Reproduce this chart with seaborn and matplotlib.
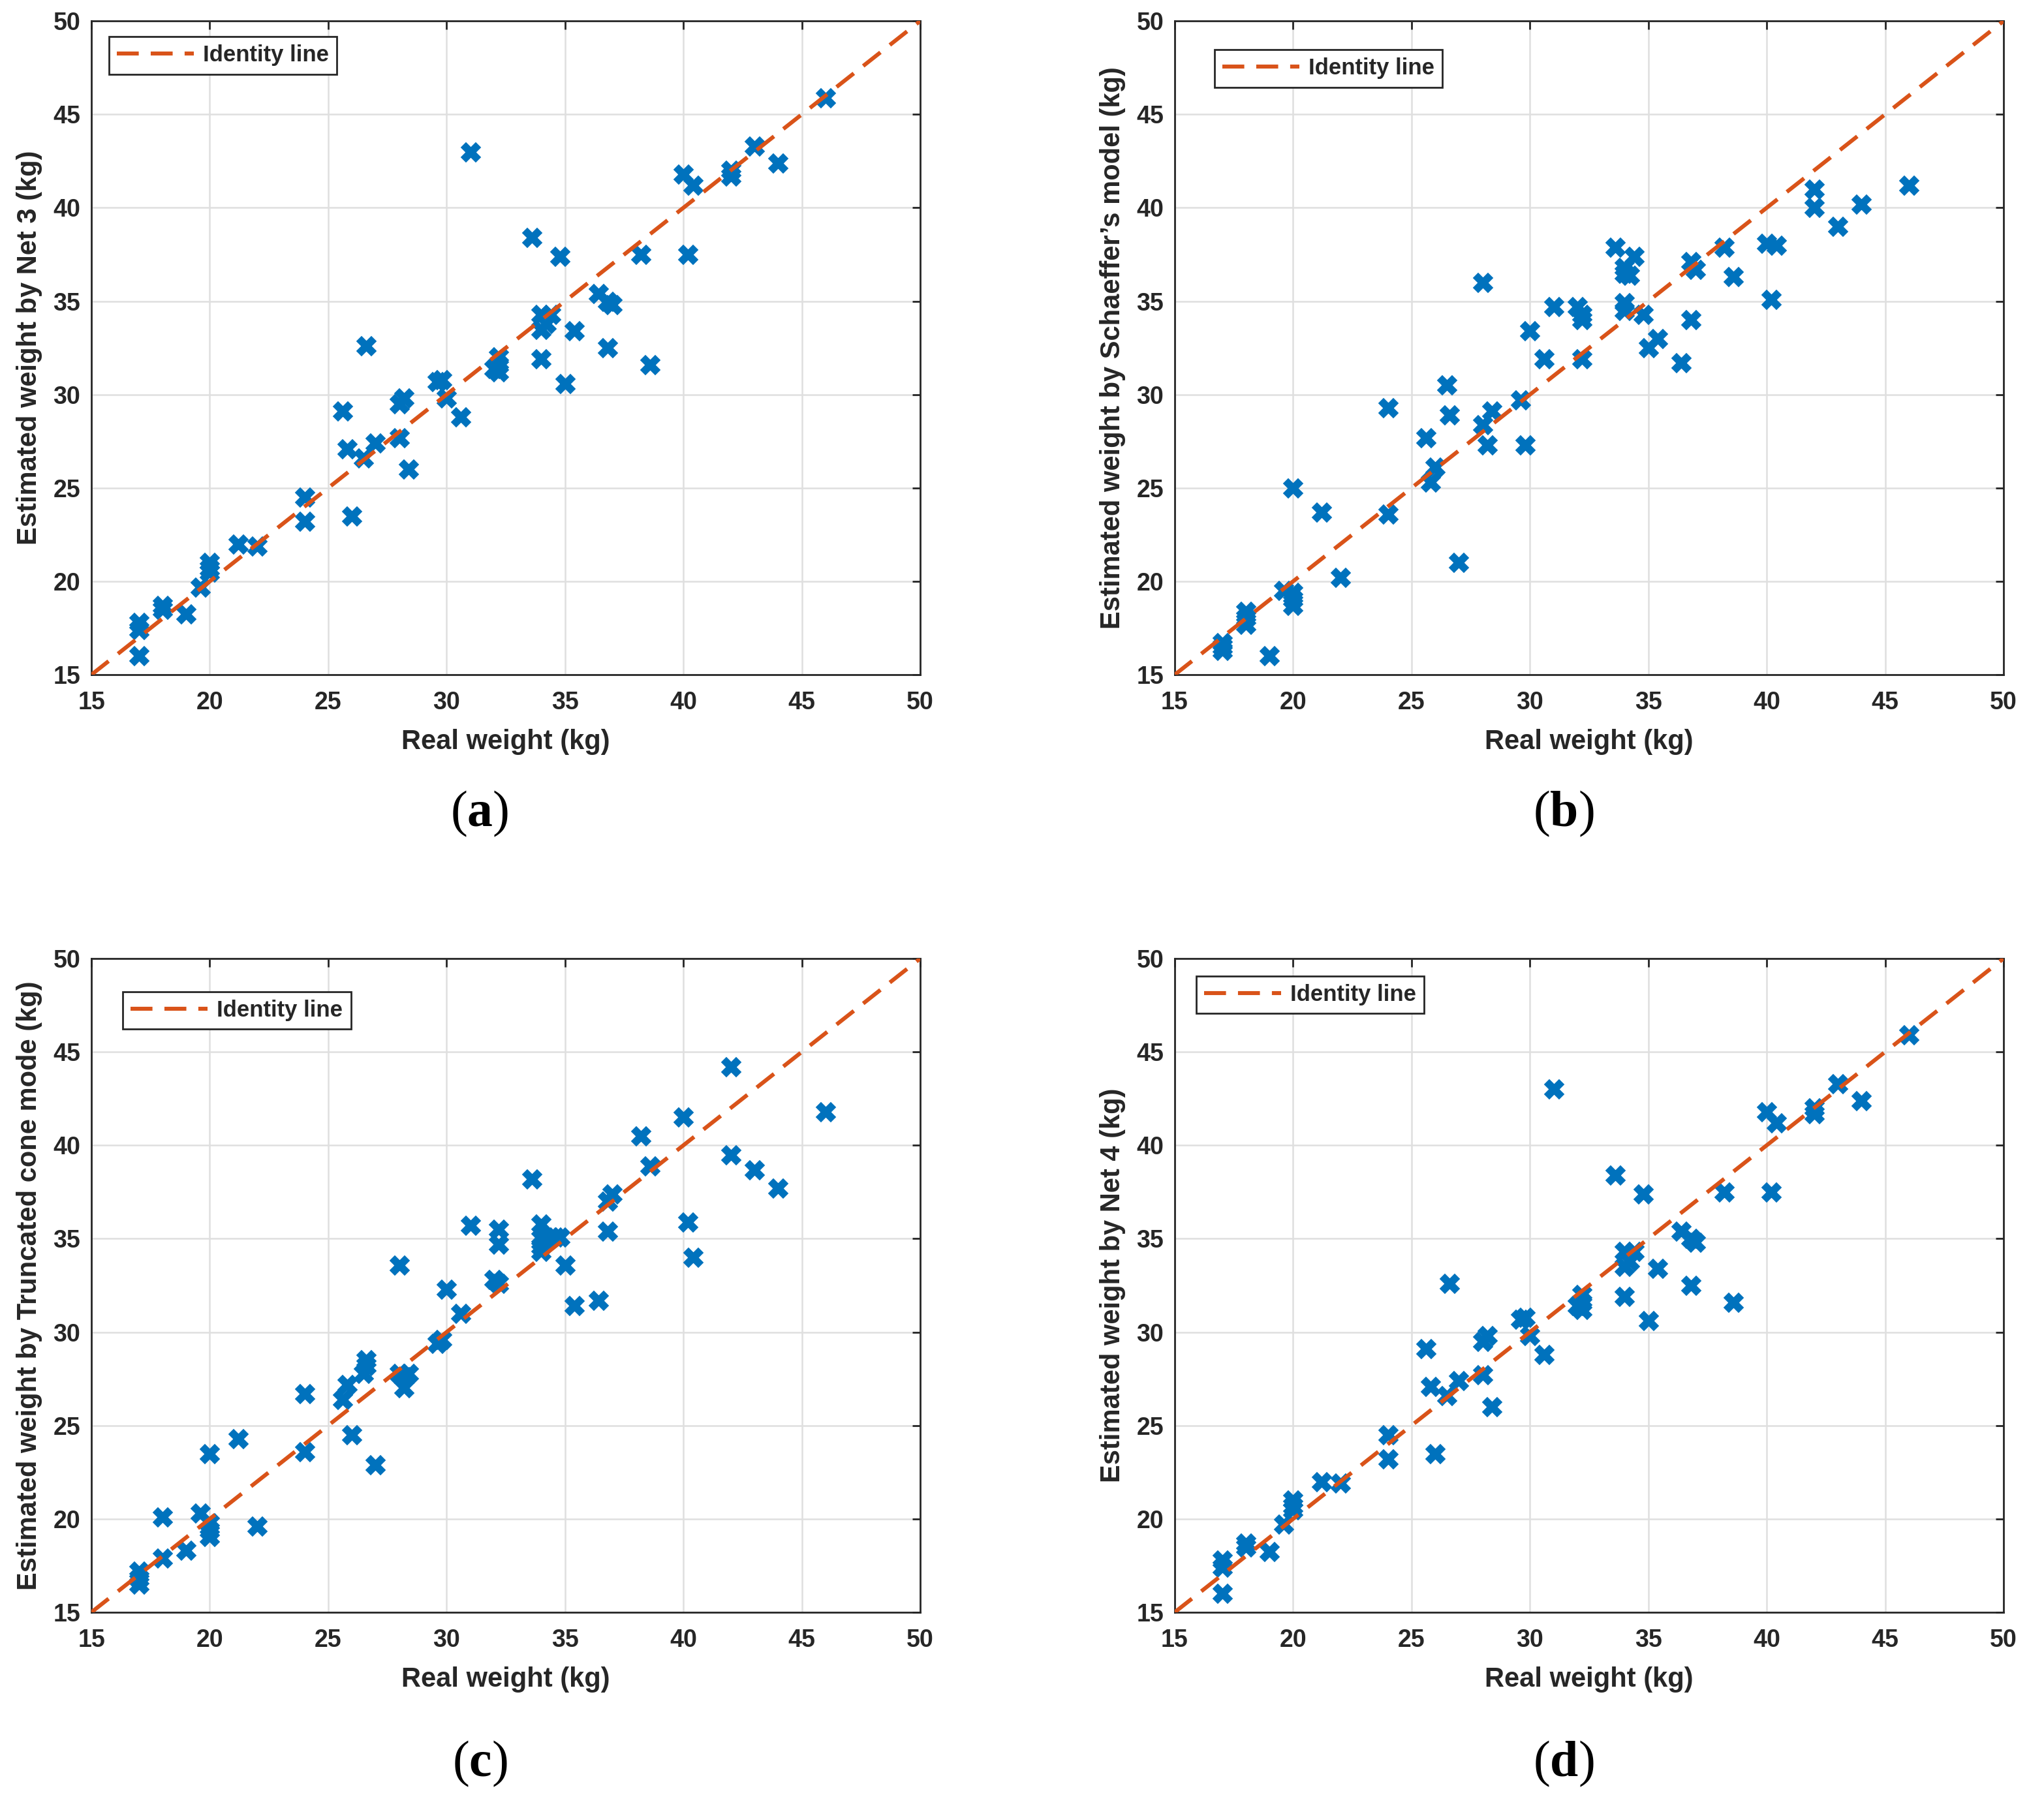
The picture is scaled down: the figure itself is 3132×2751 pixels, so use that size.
import pandas as pd
import matplotlib.pyplot as plt
import seaborn as sns

# real vs estimated weights (kg)
real_a = [17, 17, 17, 18, 18, 19, 19.6, 20, 20, 20, 21.2, 22, 24, 24, 25.6, 25.8, 26, 26.6,
          26.5, 27, 28, 28.2, 28, 28.4, 29.6, 29.8, 30, 30.6, 31, 32.2, 32.2, 32.2, 32.0, 33.6,
          34.0, 34.0, 34.2, 34.4, 34.0, 34.8, 35.0, 35.4, 36.4, 36.8, 37.0, 36.8, 38.2, 38.6,
          40, 40.4, 40.2, 42, 42, 43, 44, 46]
net3 = [16.0, 17.8, 17.4, 18.7, 18.5, 18.25, 19.7, 21.0, 20.7, 20.5, 22.0, 21.9, 24.5, 23.2,
        29.1, 27.1, 23.5, 32.6, 26.6, 27.4, 29.5, 29.8, 27.7, 26.0, 30.7, 30.8, 29.8, 28.8,
        43.0, 32.0, 31.6, 31.2, 31.4, 38.4, 34.3, 33.5, 33.8, 34.3, 31.9, 37.4, 30.6, 33.4,
        35.4, 35.0, 34.8, 32.5, 37.5, 31.6, 41.8, 41.2, 37.5, 42.0, 41.7, 43.3, 42.4, 45.9]

real_b = [17, 17, 17, 18, 18, 18, 19, 19.6, 20, 20, 20, 20, 21.2, 22, 24, 24, 25.6, 25.8, 26,
          26.5, 26.6, 27, 28, 28, 28.2, 28.4, 29.6, 29.8, 30, 30.6, 31, 32, 32.2, 32.2, 32.2,
          33.6, 34, 34, 34.2, 34, 34, 34.4, 34.8, 35, 35.4, 36.4, 36.8, 37, 36.8, 38.2, 38.6,
          40, 40.4, 40.2, 42, 42, 43, 44, 46]
schaeffer = [16.7, 16.5, 16.3, 18.4, 18.05, 17.7, 16.0, 19.5, 19.4, 19.05, 18.7, 25.0, 23.7,
             20.2, 29.3, 23.6, 27.7, 25.3, 26.1, 30.5, 28.9, 21.0, 36.0, 28.4, 27.3, 29.1, 29.7,
             27.3, 33.4, 31.9, 34.7, 34.7, 34.3, 34.0, 31.9, 37.9, 36.8, 36.5, 36.4, 34.9, 34.5,
             37.4, 34.3, 32.5, 33.0, 31.7, 37.1, 36.7, 34.0, 37.9, 36.3, 38.1, 38.0, 35.1, 41.0,
             40.0, 39.0, 40.2, 41.2]

real_c = [17, 17, 17, 18, 18, 19, 19.6, 20, 20, 20, 20, 21.2, 22, 24, 24, 25.6, 25.8, 26, 26.5,
          26.6, 26.6, 27, 28, 28, 28.2, 28.4, 28.2, 29.6, 29.8, 30, 30.6, 31, 32, 32.2, 32.2,
          32.2, 33.6, 34, 34, 34, 34, 34.2, 34.4, 34.6, 34.8, 35, 35.4, 36.4, 36.8, 37, 36.8,
          38.2, 38.6, 40, 40.2, 40.4, 42, 42, 43, 44, 46]
cone = [17.2, 16.8, 16.5, 20.1, 17.9, 18.3, 20.3, 23.5, 19.8, 19.4, 19.05, 24.3, 19.6, 26.7,
        23.6, 26.4, 27.2, 24.5, 27.8, 28.2, 28.5, 22.9, 33.6, 27.8, 27.6, 27.8, 27.0, 29.4,
        29.6, 32.3, 31.0, 35.7, 32.8, 32.6, 35.5, 34.7, 38.2, 35.8, 35.0, 34.6, 34.3, 35.0,
        35.1, 35.1, 35.1, 33.6, 31.4, 31.7, 37.0, 37.4, 35.4, 40.5, 38.9, 41.5, 35.9, 34.0,
        44.2, 39.5, 38.7, 37.7, 41.8]

real_d = list(real_a)
net4 = list(net3)  # panel (d) shows the same values as (a)

identity = [15, 50]
ticks = [15, 20, 25, 30, 35, 40, 45, 50]
ylabels = ['Estimated weight by Net 3 (kg)',
           'Estimated weight by Schaeffer\u2019s model (kg)',
           'Estimated weight by Truncated cone mode (kg)',
           'Estimated weight by Net 4 (kg)']
letters = ['a', 'b', 'c', 'd']

blue = '#0072BD'
orange = '#D95319'
dark = '#262626'

sns.set_style('white')
plt.rcParams['font.family'] = ['Liberation Sans', 'DejaVu Sans']
plt.rcParams['font.weight'] = 'bold'
plt.rcParams['axes.labelweight'] = 'bold'
# captions: regular serif parentheses around a bold letter
plt.rcParams['mathtext.fontset'] = 'custom'
plt.rcParams['mathtext.rm'] = 'Liberation Serif:weight=normal'
plt.rcParams['mathtext.bf'] = 'Liberation Serif:weight=bold'

fig = plt.figure(figsize=(15.66, 13.755), dpi=200)

# axes rectangles in figure fractions, legend anchors and caption spots
positions = [[0.0447, 0.6241, 0.4055, 0.3642], [0.5747, 0.6241, 0.4055, 0.3642],
             [0.0447, 0.1018, 0.4055, 0.3642], [0.5747, 0.1018, 0.4055, 0.3642]]
legend_anchor = [(0.021, 0.976), (0.048, 0.956), (0.038, 0.949), (0.026, 0.973)]
caption_xy = [(0.2347, 0.5467), (0.7650, 0.5467), (0.2347, 0.0172), (0.7650, 0.0172)]
panels = [(real_a, net3), (real_b, schaeffer), (real_c, cone), (real_d, net4)]

for i, (xs, ys) in enumerate(panels):
    ax = fig.add_axes(positions[i])
    df = pd.DataFrame({'real': xs, 'est': ys})
    sns.scatterplot(data=df, x='real', y='est', ax=ax, marker='x', s=70, linewidth=4.2,
                    color=blue, legend=False, zorder=2)
    sns.lineplot(x=identity, y=identity, ax=ax, color=orange, lw=2.2, zorder=3,
                 label='Identity line')
    ax.lines[-1].set_linestyle((0, (5.5, 3)))

    ax.set_xlim(15, 50)
    ax.set_ylim(15, 50)
    ax.set_xticks(ticks)
    ax.set_yticks(ticks)
    ax.grid(True, color='#DFDFDF', lw=0.9)
    ax.set_axisbelow(True)
    for sp in ax.spines.values():
        sp.set_color(dark)
        sp.set_linewidth(1.0)
    ax.tick_params(direction='in', length=4.5, width=1, top=True, right=True,
                   labelsize=13.5, colors=dark)
    ax.tick_params(axis='x', pad=9)
    ax.tick_params(axis='y', pad=6)
    ax.set_xlabel('Real weight (kg)', fontsize=15, color=dark, labelpad=8)
    ax.set_ylabel(ylabels[i], fontsize=15, color=dark, labelpad=6)

    leg = ax.legend(loc='upper left', bbox_to_anchor=legend_anchor[i], fontsize=12.5,
                    frameon=True, fancybox=False, framealpha=1, edgecolor=dark,
                    handlelength=3.4, borderpad=0.35, borderaxespad=0, handletextpad=0.4)
    leg.get_frame().set_linewidth(1.0)

    fig.text(caption_xy[i][0], caption_xy[i][1],
             r'$\mathrm{(}\mathbf{' + letters[i] + r'}\mathrm{)}$',
             ha='center', va='center', fontsize=28, color='black')

fig.savefig('out.png', dpi=200)
